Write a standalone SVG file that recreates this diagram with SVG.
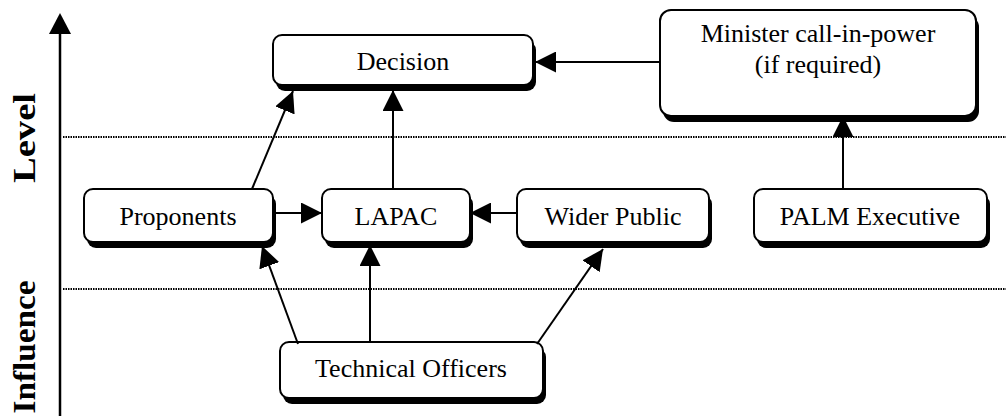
<svg xmlns="http://www.w3.org/2000/svg" width="1006" height="416" viewBox="0 0 1006 416">
  <style>
    .box { fill: #ffffff; stroke: #000000; stroke-width: 2; }
    .shadow { fill: #000000; }
    .label { font-family: "Liberation Serif", "Times New Roman", serif; font-size: 26px; fill: #000000; text-anchor: middle; }
    .axis-label { font-family: "Liberation Serif", "Times New Roman", serif; font-size: 32px; font-weight: bold; fill: #000000; text-anchor: middle; }
    .conn { stroke: #000000; stroke-width: 2; fill: none; marker-end: url(#arrow); }
    .guide { stroke: #000000; stroke-width: 2; stroke-dasharray: 1.5 1; fill: none; }
  </style>
  <defs>
    <marker id="arrow" markerUnits="userSpaceOnUse" markerWidth="21" markerHeight="21" refX="21" refY="10.5" orient="auto">
      <path d="M0,0 L21,10.5 L0,21 z" fill="#000000"/>
    </marker>
  </defs>

  <rect width="1006" height="416" fill="#ffffff"/>

  <!-- vertical axis and band separators -->
  <g id="axis">
    <line x1="60" y1="416" x2="60" y2="30" stroke="#000000" stroke-width="2.5"/>
    <path d="M60,13 L71,34 L49,34 z" fill="#000000"/>
    <line class="guide" x1="63" y1="137" x2="1006" y2="137"/>
    <line class="guide" x1="63" y1="289" x2="1006" y2="289"/>
    <text class="axis-label" transform="translate(35,138) rotate(-90)" textLength="90" lengthAdjust="spacingAndGlyphs">Level</text>
    <text class="axis-label" transform="translate(35,347) rotate(-90)" textLength="133" lengthAdjust="spacingAndGlyphs">Influence</text>
  </g>

  <!-- nodes -->
  <g id="decision">
    <rect class="shadow" x="276" y="41" width="260" height="50" rx="9"/>
    <rect class="box" x="273" y="35" width="260" height="50" rx="9"/>
    <text class="label" x="403" y="70">Decision</text>
  </g>
  <g id="minister">
    <rect class="shadow" x="663" y="16" width="316" height="106" rx="11"/>
    <rect class="box" x="660" y="10" width="316" height="106" rx="11"/>
    <text class="label" x="818" y="42">Minister call-in-power</text>
    <text class="label" x="818" y="73">(if required)</text>
  </g>
  <g id="proponents">
    <rect class="shadow" x="87" y="195" width="189" height="53" rx="9"/>
    <rect class="box" x="84" y="189" width="189" height="53" rx="9"/>
    <text class="label" x="178" y="225">Proponents</text>
  </g>
  <g id="lapac">
    <rect class="shadow" x="325" y="195" width="148" height="53" rx="9"/>
    <rect class="box" x="322" y="189" width="148" height="53" rx="9"/>
    <text class="label" x="396" y="225">LAPAC</text>
  </g>
  <g id="wider-public">
    <rect class="shadow" x="520" y="195" width="192" height="53" rx="9"/>
    <rect class="box" x="517" y="189" width="192" height="53" rx="9"/>
    <text class="label" x="613" y="225">Wider Public</text>
  </g>
  <g id="palm-executive">
    <rect class="shadow" x="757" y="195" width="233" height="53" rx="9"/>
    <rect class="box" x="754" y="189" width="233" height="53" rx="9"/>
    <text class="label" x="870" y="225">PALM Executive</text>
  </g>
  <g id="technical-officers">
    <rect class="shadow" x="283" y="348" width="263" height="56" rx="9"/>
    <rect class="box" x="280" y="342" width="263" height="56" rx="9"/>
    <text class="label" x="411" y="377">Technical Officers</text>
  </g>

  <!-- connectors -->
  <g id="connectors">
    <line class="conn" x1="660" y1="62" x2="535" y2="62"/>
    <line class="conn" x1="252" y1="189" x2="293" y2="91"/>
    <line class="conn" x1="393" y1="189" x2="393" y2="90"/>
    <line class="conn" x1="843" y1="189" x2="843" y2="116"/>
    <line class="conn" x1="273" y1="213" x2="322" y2="213"/>
    <line class="conn" x1="517" y1="213" x2="470" y2="213"/>
    <line class="conn" x1="298" y1="344" x2="262" y2="246"/>
    <line class="conn" x1="370" y1="342" x2="370" y2="245"/>
    <line class="conn" x1="537" y1="344" x2="603" y2="249"/>
  </g>
</svg>
